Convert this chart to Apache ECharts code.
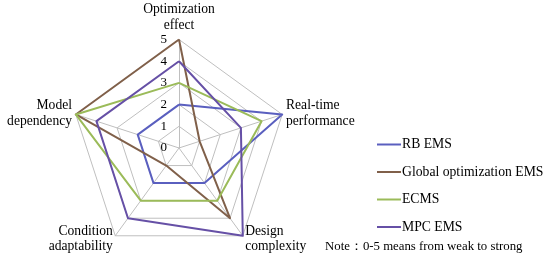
<!DOCTYPE html>
<html><head><meta charset="utf-8">
<script src="https://cdn.jsdelivr.net/npm/echarts@6/dist/echarts.min.js"></script>
<style>html,body{margin:0;padding:0;background:#fff}#c{width:550px;height:278px}</style>
</head><body><div id="c"></div>
<script>
// Indicators listed counter-clockwise from the top (ECharts radar draws counter-clockwise)
var indicators = ['Optimization\neffect', 'Model\ndependency', 'Condition\nadaptability', 'Design\ncomplexity', 'Real-time\nperformance'];
var seriesNames = ['RB EMS', 'Global optimization EMS', 'ECMS', 'MPC EMS'];
var rbEms = [2, 2, 2, 2, 5];
var globalEms = [5, 5, 1, 4, 1];
var ecms = [3, 5, 3, 3, 4];
var mpcEms = [4, 4, 4, 5, 3];
var colors = ['#5a5fbf', '#80604a', '#9bbb59', '#6650a6'];
var noteText = 'Note：0-5 means from weak to strong';
var font = 'Liberation Serif';

var chart = echarts.init(document.getElementById('c'));
var values = [rbEms, globalEms, ecms, mpcEms];
chart.setOption({
  animation: false,
  title: {
    text: noteText, left: 325, top: 240, padding: 0,
    textStyle: {fontFamily: font, fontSize: 12.8, fontWeight: 'normal', color: '#000'}
  },
  legend: {
    orient: 'vertical', left: 377, top: 137, padding: 0,
    itemWidth: 24, itemHeight: 2, itemGap: 12.5, icon: 'rect',
    data: seriesNames,
    textStyle: {fontFamily: font, fontSize: 13.7, color: '#000', lineHeight: 15, padding: [0, 0, 0, -4]}
  },
  radar: {
    center: [179, 148], radius: 108.5, shape: 'polygon',
    startAngle: 90, splitNumber: 5,
    nameGap: 4,
    axisName: {color: '#000', fontFamily: font, fontSize: 13.6, lineHeight: 15.5},
    indicator: indicators.map(function (n, i) {
      return {name: n, min: 0, max: 5, axisLabel: {show: i === 0}};
    }),
    axisLine: {lineStyle: {color: '#bfbfbf', width: 1}},
    splitLine: {lineStyle: {color: '#bfbfbf', width: 1}},
    splitArea: {show: false},
    axisTick: {show: false},
    axisLabel: {show: true, color: '#000', fontFamily: font, fontSize: 13, margin: 12, showMinLabel: true}
  },
  series: [{
    type: 'radar',
    symbol: 'none',
    data: values.map(function (v, i) {
      return {name: seriesNames[i], value: v, lineStyle: {color: colors[i], width: 2}, itemStyle: {color: colors[i]}};
    })
  }]
});
</script></body></html>
